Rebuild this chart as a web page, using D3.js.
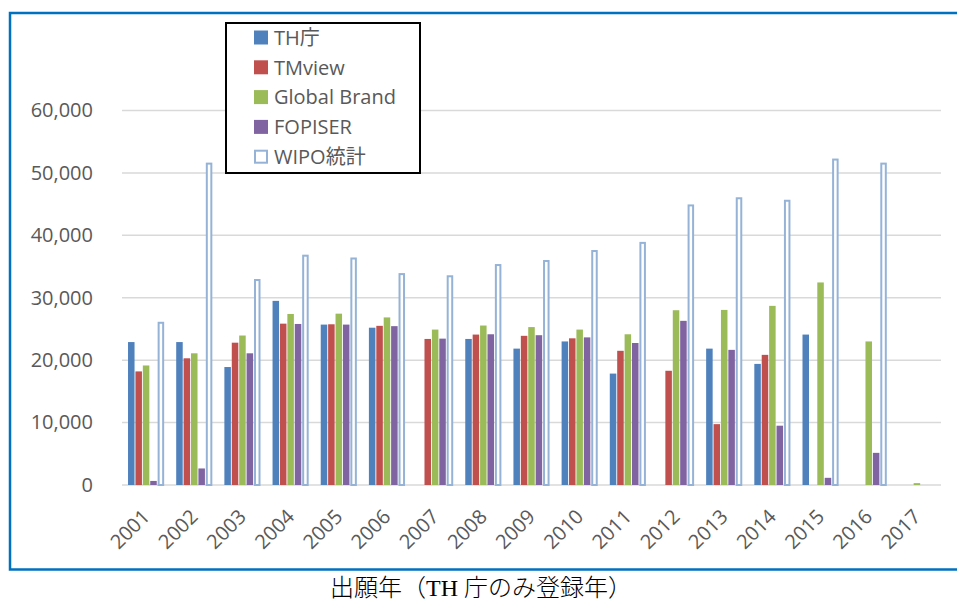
<!DOCTYPE html>
<html>
<head>
<meta charset="utf-8">
<script src="https://cdn.jsdelivr.net/npm/d3@7"></script>
<style>
  body { margin: 0; background: #fff; }
  svg { display: block; }
</style>
</head>
<body>
<svg class="chart" width="957" height="603"></svg>
<script>
// data (null = no bar)
const years = ['2001','2002','2003','2004','2005','2006','2007','2008','2009',
               '2010','2011','2012','2013','2014','2015','2016','2017'];
const seriesNames = ['TH庁', 'TMview', 'Global Brand', 'FOPISER', 'WIPO統計'];
const thValues     = [22900, 22900, 18900, 29500, 25700, 25200, null, 23400, 21850, 23000, 17850, null, 21850, 19400, 24100, null, null];
const tmviewValues = [18200, 20300, 22800, 25850, 25750, 25500, 23400, 24100, 23900, 23500, 21500, 18300, 9750, 20850, null, null, null];
const globalValues = [19150, 21100, 23950, 27400, 27450, 26850, 24900, 25550, 25300, 24900, 24150, 28000, 28050, 28700, 32450, 23000, 300];
const fopiserValues= [650, 2650, 21100, 25800, 25700, 25450, 23450, 24150, 24000, 23650, 22750, 26300, 21650, 9500, 1150, 5150, null];
const wipoValues   = [26150, 51650, 33000, 36900, 36450, 33950, 33600, 35400, 36050, 37650, 38950, 44950, 46100, 45700, 52300, 51650, null];
const yTicks = [0, 10000, 20000, 30000, 40000, 50000, 60000];
const xTitle = '出願年（TH 庁のみ登録年）';

const colors = ['#4f81bd', '#c0504d', '#9bbb59', '#8064a2', '#95b3d7'];
const allSeries = [thValues, tmviewValues, globalValues, fopiserValues, wipoValues];

const plot = {left: 122, right: 941, top: 110.5, bottom: 485};
const font = "'Open Sans', 'Noto Sans CJK JP', sans-serif";

const svg = d3.select('svg.chart');

// outer frame (blue, open on the right)
svg.append('path')
  .attr('d', 'M 957 13 H 10 V 569.5 H 957')
  .attr('fill', 'none')
  .attr('stroke', '#0070c0')
  .attr('stroke-width', 2.5);

const x0 = d3.scaleBand()
             .domain(years)
             .range([plot.left, plot.right])
             .paddingInner(0.25)
             .paddingOuter(0.125);

const x1 = d3.scaleBand()
             .domain(d3.range(seriesNames.length))
             .range([0, x0.bandwidth()])
             .paddingInner(0.12);

const y = d3.scaleLinear()
            .domain([0, 60000])
            .range([plot.bottom, plot.top]);

// gridlines
svg.append('g')
  .selectAll('line')
  .data(yTicks)
  .enter()
  .append('line')
    .attr('x1', plot.left)
    .attr('x2', plot.right)
    .attr('y1', d => y(d))
    .attr('y2', d => y(d))
    .attr('stroke', '#d9d9d9')
    .attr('stroke-width', 1.5);

// y axis labels
const yAxis = svg.append('g')
  .attr('transform', `translate(${plot.left}, 0)`)
  .call(d3.axisLeft(y).tickValues(yTicks).tickFormat(d3.format(',')).tickSize(0).tickPadding(29));

yAxis.select('.domain').remove();
yAxis.selectAll('text')
  .style('font-family', font)
  .style('font-size', '20px')
  .style('fill', '#595959');

// bars
const groups = svg.append('g')
  .selectAll('g')
  .data(years)
  .enter()
  .append('g')
    .attr('transform', d => `translate(${x0(d)}, 0)`);

groups.selectAll('rect')
  .data((yr, i) => allSeries.map((s, k) => ({k: k, v: s[i]})).filter(d => d.v != null))
  .enter()
  .append('rect')
    .attr('x', d => d.k == 4 ? x1(d.k) + 1 : x1(d.k))
    .attr('width', d => d.k == 4 ? x1.bandwidth() - 2 : x1.bandwidth())
    .attr('y', d => d.k == 4 ? y(d.v) + 1 : y(d.v))
    .attr('height', d => d.k == 4 ? y(0) - y(d.v) - 1 : y(0) - y(d.v))
    .attr('fill', d => d.k == 4 ? '#ffffff' : colors[d.k])
    .attr('stroke', d => d.k == 4 ? colors[d.k] : 'none')
    .attr('stroke-width', 2);

// x labels, rotated
svg.append('g')
  .attr('class', 'x-labels')
  .selectAll('text')
  .data(years)
  .enter()
  .append('text')
    .attr('transform', d => `translate(${x0(d) + x0.bandwidth() / 2}, 513) rotate(-45)`)
    .attr('dy', '0.35em')
    .text(d => d)
    .style('font-family', font)
    .style('font-size', '20px')
    .style('fill', '#595959')
    .style('text-anchor', 'end');

// legend
const legend = svg.append('g');

legend.append('rect')
  .attr('x', 226)
  .attr('y', 23)
  .attr('width', 194)
  .attr('height', 150)
  .attr('fill', '#ffffff')
  .attr('stroke', '#000000')
  .attr('stroke-width', 2);

const legendItems = legend.selectAll('g')
  .data(seriesNames)
  .enter()
  .append('g')
    .attr('transform', (d, i) => `translate(254, ${37.5 + i * 29.8})`);

legendItems.append('rect')
  .attr('x', (d, i) => i == 4 ? 1 : 0)
  .attr('y', (d, i) => i == 4 ? -6 : -7)
  .attr('width', (d, i) => i == 4 ? 12 : 14)
  .attr('height', (d, i) => i == 4 ? 12 : 14)
  .attr('fill', (d, i) => i == 4 ? '#ffffff' : colors[i])
  .attr('stroke', (d, i) => i == 4 ? colors[i] : 'none')
  .attr('stroke-width', 2);

legendItems.append('text')
  .attr('x', 20)
  .attr('dy', '0.36em')
  .text(d => d)
  .style('font-family', font)
  .style('font-size', '20px')
  .style('fill', '#595959');

// axis title
svg.append('text')
  .attr('x', 481)
  .attr('y', 596)
  .text(xTitle)
  .style('text-anchor', 'middle')
  .style('font-family', "'Liberation Serif', 'Noto Sans CJK JP', serif")
  .style('font-size', '24px')
  .style('font-weight', 300)
  .style('fill', '#000000');
</script>
</body>
</html>
